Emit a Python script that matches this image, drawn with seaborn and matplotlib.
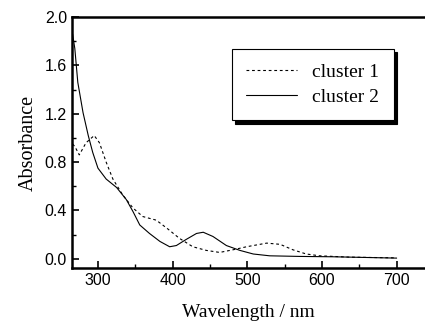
import numpy as np
import pandas as pd
import matplotlib
matplotlib.use("Agg")
import matplotlib.pyplot as plt
import seaborn as sns
from matplotlib.ticker import MultipleLocator

# valores
onda_c1 = [266, 269, 275, 284, 295, 302, 311, 320, 333, 347, 360, 378, 392, 409,
           427, 445, 463, 481, 499, 526, 544, 561, 579, 597, 637, 700]
abs_c1 = [0.95, 0.93, 0.86, 0.96, 1.02, 0.96, 0.80, 0.66, 0.53, 0.42, 0.35, 0.32,
          0.255, 0.17, 0.10, 0.07, 0.053, 0.075, 0.10, 0.13, 0.12, 0.075, 0.04,
          0.025, 0.014, 0.008]

onda_c2 = [266, 269, 273, 280, 287, 293, 300, 311, 325, 338, 347, 356, 369, 383,
           396, 405, 418, 432, 441, 454, 472, 490, 508, 530, 570, 615, 700]
abs_c2 = [1.86, 1.74, 1.46, 1.21, 1.02, 0.88, 0.75, 0.66, 0.59, 0.49, 0.39, 0.28,
          0.21, 0.144, 0.10, 0.11, 0.16, 0.21, 0.22, 0.185, 0.11, 0.07, 0.04,
          0.025, 0.02, 0.017, 0.006]

etiquetas = ["cluster 1", "cluster 2"]

df = pd.concat([
    pd.DataFrame({"onda": onda_c1, "abs": abs_c1, "serie": etiquetas[0]}),
    pd.DataFrame({"onda": onda_c2, "abs": abs_c2, "serie": etiquetas[1]}),
])

sns.set_style("ticks", {"axes.edgecolor": "black", "xtick.color": "black",
                        "ytick.color": "black", "text.color": "black",
                        "axes.labelcolor": "black"})
plt.rcParams["font.family"] = ["Liberation Sans", "DejaVu Sans"]

fig = plt.figure(figsize=(4.25, 3.22), dpi=100)
ax = fig.add_axes([0.169, 0.168, 0.831, 0.779])

sns.lineplot(data=df, x="onda", y="abs", style="serie", style_order=etiquetas,
             dashes={etiquetas[0]: (2.5, 2.5), etiquetas[1]: ""},
             color="black", linewidth=0.8, sort=False, ax=ax, legend=True)

ax.set_xlim(265, 738)
ax.set_ylim(-0.075, 2.0)
ax.xaxis.set_major_locator(MultipleLocator(100))
ax.xaxis.set_minor_locator(MultipleLocator(50))
ax.yaxis.set_major_locator(MultipleLocator(0.4))
ax.yaxis.set_minor_locator(MultipleLocator(0.2))
ax.yaxis.set_major_formatter(matplotlib.ticker.FormatStrFormatter("%.1f"))
ax.tick_params(which="major", direction="in", length=5, width=1.2, labelsize=11.5)
ax.tick_params(which="minor", direction="in", length=3, width=1.0)

for lado in ["left", "bottom", "top"]:
    ax.spines[lado].set_linewidth(1.8)
ax.spines["right"].set_visible(False)

ax.set_xlabel("Wavelength / nm", family="Liberation Serif", fontsize=14, labelpad=12)
ax.set_ylabel("Absorbance", family="Liberation Serif", fontsize=14.5, labelpad=5)

leg = ax.legend(loc="upper right", bbox_to_anchor=(0.912, 0.873), borderaxespad=0,
                frameon=True, fancybox=False,
                shadow={"color": "black", "alpha": 1, "ox": 2.5, "oy": -2.5},
                prop={"family": "Liberation Serif", "size": 14},
                handlelength=2.6, borderpad=0.75, labelspacing=0.35)
leg.get_frame().set_edgecolor("black")
leg.get_frame().set_linewidth(0.8)
for h in leg.get_lines():
    h.set_linewidth(0.8)

fig.savefig("out.png", dpi=100)
plt.close()
